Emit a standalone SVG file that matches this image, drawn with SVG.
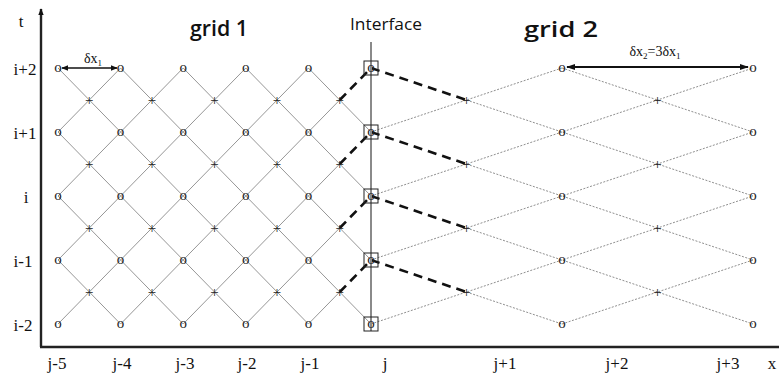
<svg xmlns="http://www.w3.org/2000/svg" width="779" height="374" viewBox="0 0 779 374">
<style>
.g1{stroke:#8a8a8a;stroke-width:0.9;fill:none}
.g2{stroke:#8f8f8f;stroke-width:1;stroke-dasharray:2 1.5;fill:none}
.dash{stroke:#111;stroke-width:2.6;stroke-dasharray:9 6;fill:none}
.ax{stroke:#222;stroke-width:2.4;fill:none}
.o{font-family:"Liberation Serif",serif;font-size:15px;fill:#222;text-anchor:middle}
.p{font-family:"Liberation Serif",serif;font-size:15px;fill:#222;text-anchor:middle}
.lab{font-family:"Liberation Serif",serif;font-size:17px;fill:#111;text-anchor:middle}
.ttl{font-family:"Open Sans",sans-serif;font-weight:600;font-size:22px;fill:#111}
.dx{font-family:"Liberation Serif",serif;font-size:14px;fill:#111;text-anchor:middle}
.box{stroke:#222;stroke-width:1;fill:none}
</style>
<defs>
<marker id="ah" viewBox="0 0 10 10" refX="9" refY="5" markerWidth="7" markerHeight="7" orient="auto-start-reverse" markerUnits="userSpaceOnUse">
<path d="M0,1 L10,5 L0,9 z" fill="#111"/>
</marker>
<marker id="ahs" viewBox="0 0 10 10" refX="9" refY="5" markerWidth="9" markerHeight="9" orient="auto-start-reverse" markerUnits="userSpaceOnUse">
<path d="M0,1.5 L10,5 L0,8.5 z" fill="#111"/>
</marker>
</defs>

<g id="axes">
<line class="ax" x1="41" y1="347" x2="41" y2="9" marker-end="url(#ah)"/>
<line class="ax" x1="40" y1="347" x2="779" y2="347"/>
<text class="lab" x="21" y="27">t</text>
<text class="lab" x="25" y="75">i+2</text>
<text class="lab" x="25" y="139">i+1</text>
<text class="lab" x="26" y="203">i</text>
<text class="lab" x="23" y="267">i-1</text>
<text class="lab" x="23" y="331">i-2</text>
<text class="lab" x="57" y="369">j-5</text>
<text class="lab" x="122" y="369">j-4</text>
<text class="lab" x="185" y="369">j-3</text>
<text class="lab" x="247" y="369">j-2</text>
<text class="lab" x="310" y="369">j-1</text>
<text class="lab" x="385" y="369">j</text>
<text class="lab" x="505" y="369">j+1</text>
<text class="lab" x="617" y="369">j+2</text>
<text class="lab" x="728" y="369">j+3</text>
<text class="lab" x="772" y="369">x</text>
</g>

<g id="titles">
<text class="ttl" x="190" y="36" textLength="58" lengthAdjust="spacingAndGlyphs">grid 1</text>
<text class="ttl" x="524" y="37" font-size="23" textLength="74" lengthAdjust="spacingAndGlyphs">grid 2</text>
<text x="386" y="30" font-family="'Open Sans',sans-serif" font-size="16" fill="#111" text-anchor="middle" textLength="72" lengthAdjust="spacingAndGlyphs">Interface</text>
</g>

<g id="connectors">
<path class="g1" d="M58,68 L308.4,324 M120.6,68 L371,324 M183.2,68 L371,260 M245.8,68 L371,196 M308.4,68 L371,132 M58,132 L245.8,324 M58,196 L183.2,324 M58,260 L120.6,324"/>
<path class="g1" d="M58,324 L308.4,68 M120.6,324 L339.7,100 M183.2,324 L339.7,164 M245.8,324 L339.7,228 M308.4,324 L339.7,292 M58,260 L245.8,68 M58,196 L183.2,68 M58,132 L120.6,68"/>
<path class="g2" d="M466.5,100 L753,196 M466.5,164 L753,260 M466.5,228 L753,324 M466.5,292 L562,324 M562,68 L753,132 M371,324 L753,196 M371,260 L753,132 M371,196 L753,68 M371,132 L562,68 M562,324 L753,260"/>
<path class="dash" d="M339.7,100 L371,68 M339.7,164 L371,132 M339.7,228 L371,196 M339.7,292 L371,260"/>
<path class="dash" d="M371,68 L466.5,100 M371,132 L466.5,164 M371,196 L466.5,228 M371,260 L466.5,292"/>
</g>

<g id="interface">
<line x1="371" y1="42" x2="371" y2="331" stroke="#8a8a8a" stroke-width="2"/>
<rect class="box" x="364" y="61" width="14" height="14"/>
<rect class="box" x="364" y="125" width="14" height="14"/>
<rect class="box" x="364" y="189" width="14" height="14"/>
<rect class="box" x="364" y="253" width="14" height="14"/>
<rect class="box" x="364" y="317" width="14" height="14"/>
</g>

<g id="dimensions">
<line x1="62" y1="68" x2="117" y2="68" stroke="#111" stroke-width="1.6" marker-start="url(#ah)" marker-end="url(#ah)"/>
<text class="dx" x="93" y="63">δx<tspan font-size="9" dy="3">1</tspan></text>
<line x1="567" y1="67" x2="748" y2="67" stroke="#111" stroke-width="1.8" marker-start="url(#ahs)" marker-end="url(#ahs)"/>
<text class="dx" x="655" y="56" font-size="14">δx<tspan font-size="9" dy="3">2</tspan><tspan dy="-3">=3δx</tspan><tspan font-size="9" dy="3">1</tspan></text>
</g>

<g id="nodes-grid1">
<text class="o" x="58" y="71.5">o</text><text class="o" x="120.6" y="71.5">o</text><text class="o" x="183.2" y="71.5">o</text><text class="o" x="245.8" y="71.5">o</text><text class="o" x="308.4" y="71.5">o</text>
<text class="o" x="58" y="135.5">o</text><text class="o" x="120.6" y="135.5">o</text><text class="o" x="183.2" y="135.5">o</text><text class="o" x="245.8" y="135.5">o</text><text class="o" x="308.4" y="135.5">o</text>
<text class="o" x="58" y="199.5">o</text><text class="o" x="120.6" y="199.5">o</text><text class="o" x="183.2" y="199.5">o</text><text class="o" x="245.8" y="199.5">o</text><text class="o" x="308.4" y="199.5">o</text>
<text class="o" x="58" y="263.5">o</text><text class="o" x="120.6" y="263.5">o</text><text class="o" x="183.2" y="263.5">o</text><text class="o" x="245.8" y="263.5">o</text><text class="o" x="308.4" y="263.5">o</text>
<text class="o" x="58" y="327.5">o</text><text class="o" x="120.6" y="327.5">o</text><text class="o" x="183.2" y="327.5">o</text><text class="o" x="245.8" y="327.5">o</text><text class="o" x="308.4" y="327.5">o</text>
<text class="p" x="89.3" y="105">+</text><text class="p" x="151.9" y="105">+</text><text class="p" x="214.5" y="105">+</text><text class="p" x="277.1" y="105">+</text><text class="p" x="339.7" y="105">+</text>
<text class="p" x="89.3" y="169">+</text><text class="p" x="151.9" y="169">+</text><text class="p" x="214.5" y="169">+</text><text class="p" x="277.1" y="169">+</text><text class="p" x="339.7" y="169">+</text>
<text class="p" x="89.3" y="233">+</text><text class="p" x="151.9" y="233">+</text><text class="p" x="214.5" y="233">+</text><text class="p" x="277.1" y="233">+</text><text class="p" x="339.7" y="233">+</text>
<text class="p" x="89.3" y="297">+</text><text class="p" x="151.9" y="297">+</text><text class="p" x="214.5" y="297">+</text><text class="p" x="277.1" y="297">+</text><text class="p" x="339.7" y="297">+</text>
</g>

<g id="nodes-interface">
<text class="o" x="371" y="71.5">o</text>
<text class="o" x="371" y="135.5">o</text>
<text class="o" x="371" y="199.5">o</text>
<text class="o" x="371" y="263.5">o</text>
<text class="o" x="371" y="327.5">o</text>
</g>

<g id="nodes-grid2">
<text class="o" x="562" y="71.5">o</text><text class="o" x="753" y="71.5">o</text>
<text class="o" x="562" y="135.5">o</text><text class="o" x="753" y="135.5">o</text>
<text class="o" x="562" y="199.5">o</text><text class="o" x="753" y="199.5">o</text>
<text class="o" x="562" y="263.5">o</text><text class="o" x="753" y="263.5">o</text>
<text class="o" x="562" y="327.5">o</text><text class="o" x="753" y="327.5">o</text>
<text class="p" x="466.5" y="105">+</text><text class="p" x="657.5" y="105">+</text>
<text class="p" x="466.5" y="169">+</text><text class="p" x="657.5" y="169">+</text>
<text class="p" x="466.5" y="233">+</text><text class="p" x="657.5" y="233">+</text>
<text class="p" x="466.5" y="297">+</text><text class="p" x="657.5" y="297">+</text>
</g>
</svg>
